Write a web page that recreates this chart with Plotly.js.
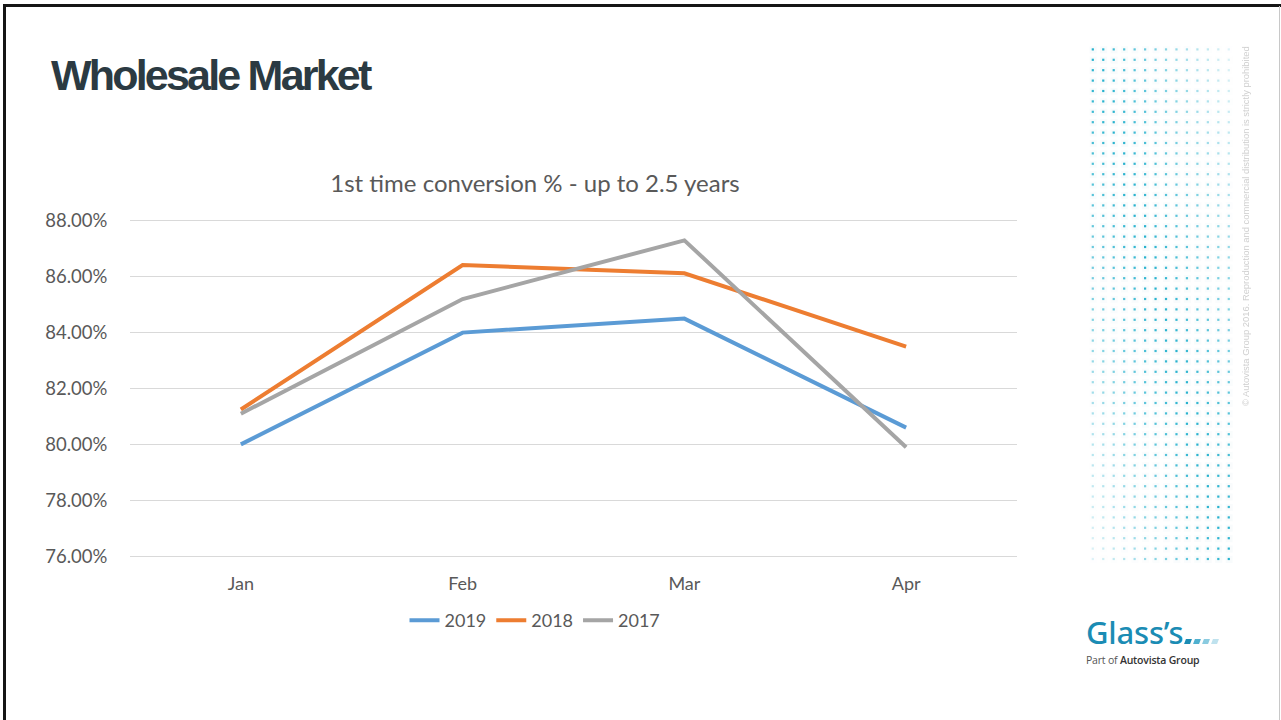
<!DOCTYPE html>
<html><head><meta charset="utf-8">
<script src="https://cdn.plot.ly/plotly-3.0.1.min.js"></script>
<style>
html,body{margin:0;padding:0;background:#fff;}
#wrap{position:relative;width:1281px;height:720px;overflow:hidden;background:#fff;}
#chart{position:absolute;left:0;top:0;width:1281px;height:720px;}
#bTop{position:absolute;left:3px;top:4px;width:1278px;height:3px;background:#151515;}
#bLeft{position:absolute;left:3px;top:4px;width:3px;height:716px;background:#151515;}
#bRight{position:absolute;left:1279px;top:6px;width:1px;height:714px;background:#c8c8c8;}
#pageTitle{position:absolute;left:51px;top:50px;font-family:"Liberation Sans",Arial,sans-serif;font-weight:bold;font-size:43px;letter-spacing:-2.8px;color:#2B3A42;white-space:nowrap;line-height:50px;}
#dots{position:absolute;left:1085px;top:42px;}
#copy{position:absolute;left:1241px;top:406px;transform:rotate(-90deg);transform-origin:left top;font-family:"Liberation Sans",Arial,sans-serif;font-size:9.4px;color:#cfcfcf;white-space:nowrap;line-height:10px;}
#logo{position:absolute;left:1086px;top:616px;}
#glass{font-family:"Noto Sans","Open Sans",sans-serif;font-size:31px;font-weight:500;color:#1B8CB4;letter-spacing:-0.2px;line-height:32px;height:32px;white-space:nowrap;}
#glass span.d{display:inline-block;width:6px;height:5px;margin-right:3px;vertical-align:baseline;transform:skewX(-20deg);}
#part{font-family:"Open Sans","Noto Sans",sans-serif;font-size:10.5px;color:#555;white-space:nowrap;margin-top:6px;line-height:12px;letter-spacing:-0.2px;}
#part b{color:#333;font-weight:600;}
</style></head><body>
<div id="wrap">
  <div id="chart"></div>
  <div id="bTop"></div><div id="bLeft"></div><div id="bRight"></div>
  <div id="pageTitle">Wholesale Market</div>
  <canvas id="dots" width="160" height="530"></canvas>
  <div id="copy">© Autovista Group 2016. Reproduction and commercial distribution is strictly prohibited</div>
  <div id="logo">
    <div id="glass">Glass’s<span class="d" style="background:#1B8CB4;margin-left:2px"></span><span class="d" style="background:#4FB0CF"></span><span class="d" style="background:#8ACBE0"></span><span class="d" style="background:#BFE2EE"></span></div>
    <div id="part">Part of <b>Autovista Group</b></div>
  </div>
</div>
<script>
// ---- chart data ----
var months = ['Jan', 'Feb', 'Mar', 'Apr'];
var seriesNames = ['2019', '2018', '2017'];
var values2019 = [80.0, 84.0, 84.5, 80.6];
var values2018 = [81.25, 86.42, 86.12, 83.5];
var values2017 = [81.1, 85.2, 87.3, 79.9];
var yTickVals = [76, 78, 80, 82, 84, 86, 88];
var yTickLabels = ['76.00%', '78.00%', '80.00%', '82.00%', '84.00%', '86.00%', '88.00%'];

var colors = ['#5B9BD5', '#ED7D31', '#A5A5A5'];
var allValues = [values2019, values2018, values2017];
var txt = '#595959';
var fontFam = 'Lato, "Open Sans", sans-serif';

var traces = allValues.map(function (v, i) {
  return {
    type: 'scatter', mode: 'lines', x: months, y: v, name: seriesNames[i],
    line: {color: colors[i], width: 4}, hoverinfo: 'x+y+name'
  };
});

var layout = {
  width: 1281, height: 720,
  paper_bgcolor: 'rgba(0,0,0,0)', plot_bgcolor: 'rgba(0,0,0,0)',
  margin: {l: 130, r: 264, t: 218, b: 161, pad: 0},
  font: {family: fontFam, size: 18, color: txt},
  title: {
    text: '1st time conversion % - up to 2.5 years',
    font: {family: fontFam, size: 24, color: txt},
    x: 535 / 1281, xref: 'container', xanchor: 'center',
    y: 1 - 184 / 720, yref: 'container', yanchor: 'middle'
  },
  xaxis: {
    type: 'category', range: [-0.5, 3.5], showgrid: false, zeroline: false,
    showline: false, ticks: 'outside', ticklen: 8, tickcolor: 'rgba(0,0,0,0)',
    tickfont: {family: fontFam, size: 18, color: txt}, fixedrange: true
  },
  yaxis: {
    range: [75.9, 88.1], tickvals: yTickVals, ticktext: yTickLabels,
    showgrid: true, gridcolor: '#D9D9D9', gridwidth: 1, zeroline: false, showline: false,
    ticks: 'outside', ticklen: 18, tickcolor: 'rgba(0,0,0,0)',
    tickfont: {family: fontFam, size: 18.5, color: txt}, fixedrange: true
  },
  showlegend: true,
  legend: {
    orientation: 'h', x: (535 - 130) / 887, xanchor: 'center', y: -0.126, yanchor: 'top',
    font: {family: fontFam, size: 18, color: txt}, bgcolor: 'rgba(0,0,0,0)', itemwidth: 30,
    traceorder: 'normal'
  }
};

Plotly.newPlot('chart', traces, layout, {displayModeBar: false, staticPlot: true});

// ---- decorative dot grid ----
(function () {
  var c = document.getElementById('dots');
  var ctx = c.getContext('2d');
  var ox = 1085, oy = 42;
  var nCols = 14, nRows = 50;
  for (var j = 0; j < nRows; j++) {
    for (var i = 0; i < nCols; i++) {
      var x = 1092.7 + i * 10.46 - ox;
      var y = 49.3 + j * 10.4 - oy;
      var a = 1 - Math.abs(i / (nCols - 1) - j / (nRows - 1)) * 0.85;
      ctx.fillStyle = 'rgba(235,243,246,' + (0.35 * a) + ')';
      ctx.fillRect(x - 3, y - 3, 7, 7);
      ctx.fillStyle = 'rgba(38,178,206,' + a + ')';
      ctx.fillRect(x - 1, y - 1, 2.2, 2.2);
    }
  }
})();
</script>
</body></html>
